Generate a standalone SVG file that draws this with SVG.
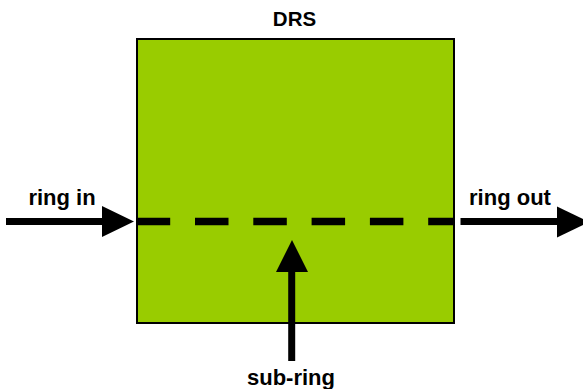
<svg xmlns="http://www.w3.org/2000/svg" width="583" height="389" viewBox="0 0 583 389">
<style>
.lbl{font-family:"Liberation Sans",Arial,sans-serif;font-weight:bold;font-size:22px;fill:#000}
.shaft{stroke:#000;stroke-width:7;fill:none}
.head{fill:#000}
</style>
<rect width="583" height="389" fill="#fff"/>
<g id="drs">
<rect x="137" y="39" width="317" height="284" fill="#99CC00" stroke="#000" stroke-width="2"/>
<text class="lbl" x="294.5" y="26" text-anchor="middle" style="font-size:20.5px">DRS</text>
</g>
<g id="connectors">
<g id="ring-in">
<line class="shaft" x1="6" y1="221.5" x2="103" y2="221.5"/>
<polygon class="head" points="102,206 134,221.5 102,237"/>
<text class="lbl" x="62" y="205" text-anchor="middle">ring in</text>
</g>
<g id="sub-ring-dashes">
<line x1="136.7" y1="221.5" x2="455" y2="221.5" stroke="#000" stroke-width="7.5" stroke-dasharray="33.5 24.8"/>
</g>
<g id="ring-out">
<line class="shaft" x1="460.5" y1="221.5" x2="558" y2="221.5"/>
<polygon class="head" points="557,206.5 589,222 557,237.5"/>
<text class="lbl" x="510" y="205" text-anchor="middle">ring out</text>
</g>
<g id="sub-ring">
<line class="shaft" x1="291.7" y1="361" x2="291.7" y2="271"/>
<polygon class="head" points="276,272 292,240 308,272"/>
<text class="lbl" x="291" y="385" text-anchor="middle">sub-ring</text>
</g>
</g>
</svg>
